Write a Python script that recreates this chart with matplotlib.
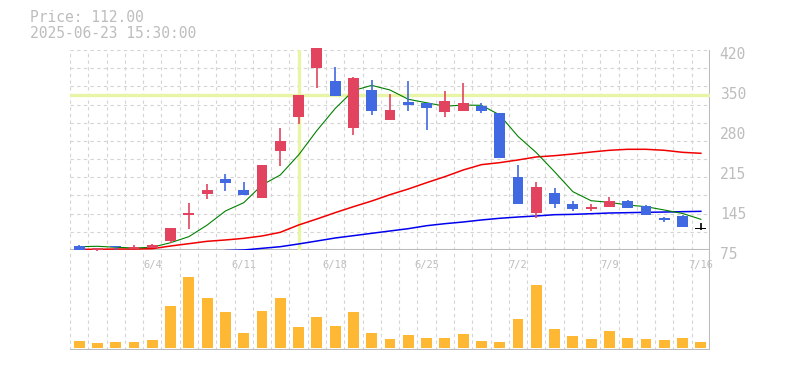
import numpy as np
import matplotlib
matplotlib.use("Agg")
import matplotlib.pyplot as plt
from matplotlib.transforms import ScaledTranslation

# daily candles, 2025-05-29 .. 2025-07-16
dates = ["5/29", "5/30", "6/2", "6/3", "6/4", "6/5", "6/6", "6/9", "6/10", "6/11",
         "6/12", "6/13", "6/16", "6/17", "6/18", "6/19", "6/20", "6/23", "6/24", "6/25",
         "6/26", "6/27", "6/30", "7/1", "7/2", "7/3", "7/4", "7/7", "7/8", "7/9",
         "7/10", "7/11", "7/14", "7/15", "7/16"]
opens = [82, 74.5, 80.5, 76.5, 78.5, 90.5, 135.5, 172, 197.5, 178.5,
         165, 246, 305, 389.5, 366.5, 286, 351, 300, 331, 328,
         313.5, 315.5, 323, 311.5, 201, 139.5, 173.5, 155, 146, 149.5,
         160, 151.5, 131, 134, 112]
highs = [84, 78.5, 82, 83.5, 85, 113, 156.5, 189, 206, 192.5,
         221.5, 285.5, 342.5, 424, 391, 373.5, 368.5, 344, 366.5, 329,
         349.5, 363, 328.5, 311.5, 221.5, 192.5, 182.5, 159.5, 155, 166.5,
         161, 152.5, 132.5, 136, 121]
lows = [75, 74, 74.5, 76.5, 78.5, 87.5, 112, 163, 177, 170.5,
        165, 220.5, 292, 355, 341, 273.5, 308.5, 300, 315.5, 282.5,
        305, 315.5, 311.5, 234, 155, 131, 148, 143, 143, 149.5,
        148, 136, 123.5, 115, 109.5]
closes = [75.5, 78.5, 79.5, 80, 83.5, 113, 139.5, 178.5, 191, 170.5,
          221.5, 263, 342.5, 424, 341, 371.5, 315.5, 316.5, 325.5, 320.5,
          332, 329, 315.5, 234, 155, 183.5, 155, 146, 149.5, 159.5,
          148, 136, 127.5, 115, 112]
volumes = [21, 15, 18, 18, 24, 126, 214, 150, 108, 45,
           111, 150, 63, 93, 66, 108, 45, 27, 39, 30,
           30, 42, 21, 18, 87, 189, 57, 36, 27, 51,
           30, 27, 24, 30, 18]

# moving averages
ma_short = [80.7, 81.4, 79.7, 78.5, 79.7, 87.6, 98, 118, 142.3, 156.6,
            187.1, 204.4, 238.9, 281, 319, 350, 359, 351, 335, 329,
            323, 325, 324.6, 308, 271, 243, 210, 175.6, 160, 157.2,
            152.6, 149.7, 144, 138, 128]
ma_mid = [76.2, 76.2, 76.7, 76.7, 77.3, 81.9, 85.9, 90, 92.3, 95.1,
          99.2, 105.5, 118.1, 128.5, 139.4, 149.7, 159.5, 170.4, 180.2, 191.1,
          201.5, 213, 222.2, 225.7, 230.3, 235.5, 237.7, 240.6, 244, 247,
          248.7, 248.7, 247, 243.5, 241.8]
ma_long = [None] * 8 + [74, 75, 77.9, 80.7, 85.4, 90.5, 95.7, 99.7, 103.8, 107.8,
                        111.8, 116.9, 120.4, 123.3, 126.8, 129.7, 131.9, 133.7, 135.9, 136.5,
                        137.6, 138.8, 139.4, 140, 140.5, 141.1, 141.7]

price_ticks = [75, 144, 213, 282, 351, 420]
price_labels = ["75", "145", "215", "280", "350", "420"]
cross_idx = 12
cross_price = 343
info_lines = ["Price: 112.00", "2025-06-23 15:30:00"]

UP = "#e2445f"
DOWN = "#4169e1"
VOL = "#ffb833"
GRID = "#d4d4d4"
LABEL = "#bdbdbd"
CROSS = "#e8f5a6"
MONO = "DejaVu Sans Mono"

n = len(closes)
x = np.arange(n)
W, H = 785, 370

fig = plt.figure(figsize=(W / 100, H / 100), dpi=100)
ax = fig.add_axes((70 / W, (H - 250) / H, 640 / W, 200 / H))
axv = fig.add_axes((70 / W, (H - 350) / H, 640 / W, 100 / H))
axv.set_facecolor("none")

for a in (ax, axv):
    a.set_xlim(-0.5, n - 0.5)
    for s in a.spines.values():
        s.set_visible(False)
    for b in np.arange(n + 1) - 0.5:
        a.axvline(b, color=GRID, lw=0.8, ls=(0, (3, 3)), zorder=0)
    a.axvline(n - 0.5, color="#bbbbbb", lw=1.5, zorder=1)

# price panel
ax.set_ylim(75, 420)
for g in np.linspace(75, 420, 12)[1:]:
    ax.axhline(g, color=GRID, lw=0.8, ls=(0, (3, 3)), zorder=0)
ax.axhline(75, color="#bbbbbb", lw=1.5, zorder=1)

ax.axhline(cross_price, color=CROSS, lw=2.4, zorder=2)
ax.axvline(cross_idx, color=CROSS, lw=2.4, zorder=2)

ax.plot(x, ma_mid, color="#f00000", lw=1.1, zorder=3)
ax.plot(x, [np.nan if v is None else v for v in ma_long], color="#0000ee", lw=1.1, zorder=3)
ax.plot(x, ma_short, color="#008000", lw=0.8, zorder=3)

for i in range(n):
    o, h, l, c = opens[i], highs[i], lows[i], closes[i]
    if c > o:
        col = UP
    elif c < o:
        col = DOWN
    else:
        col = "black"
    ax.vlines(i, l, h, color=col, lw=1.2, zorder=4, clip_on=False)
    body = max(abs(c - o), 1.6)
    ax.bar(i, body, bottom=min(o, c), width=0.6, color=col, zorder=5, clip_on=False)

ax.set_xticks(x[4::5])
ax.set_xticklabels(dates[4::5])
ax.tick_params(axis="x", length=0, pad=7, labelsize=7.5, labelcolor=LABEL)
for t in ax.get_xticklabels():
    t.set_fontfamily(MONO)

ax.yaxis.tick_right()
ax.set_yticks(price_ticks)
ax.set_yticklabels(price_labels)
ax.tick_params(axis="y", length=0, pad=7, labelsize=10.5, labelcolor=LABEL)
shift = ScaledTranslation(0, -3 / 100, fig.dpi_scale_trans)
for t in ax.get_yticklabels():
    t.set_fontfamily(MONO)
    t.set_transform(t.get_transform() + shift)

# volume panel
axv.bar(x, volumes, width=0.6, color=VOL, zorder=3)
axv.set_ylim(-6, 294)
axv.axhline(-6, color="#bbbbbb", lw=1.5, zorder=1)
axv.set_xticks([])
axv.set_yticks([])

fig.text(30 / W, 1 - 18 / H, info_lines[0], family=MONO, fontsize=10.5,
         color=LABEL, va="center", ha="left")
fig.text(30 / W, 1 - 33 / H, info_lines[1], family=MONO, fontsize=10.5,
         color=LABEL, va="center", ha="left")

fig.savefig("out.png", dpi=100, facecolor="white")
